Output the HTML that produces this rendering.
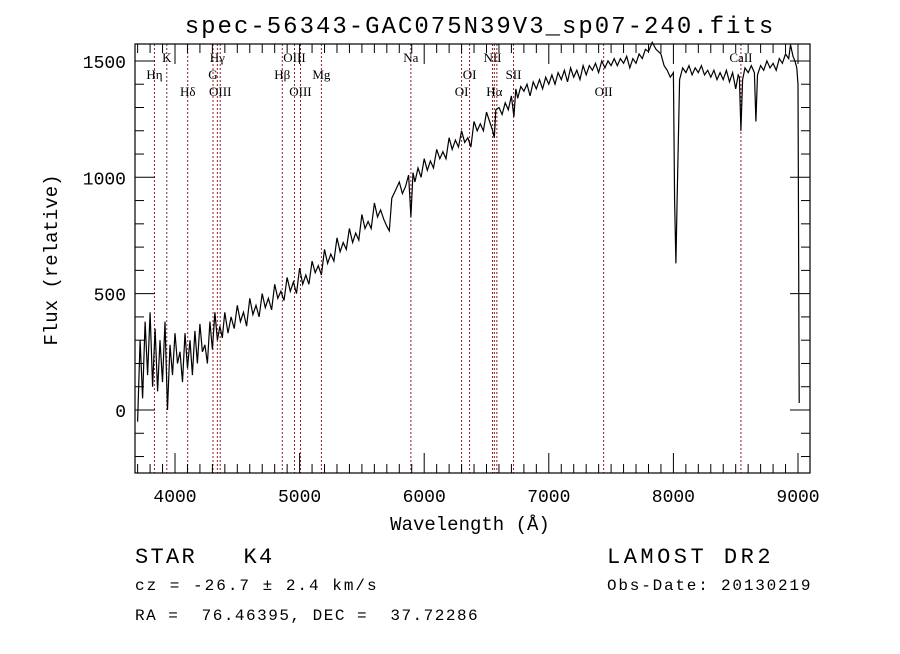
<!DOCTYPE html>
<html><head><meta charset="utf-8"><style>
body{margin:0;background:#fff;}
svg text{font-family:"Liberation Mono",monospace;white-space:pre;}
</style></head><body>
<svg id="c" width="900" height="649" xmlns="http://www.w3.org/2000/svg" xml:space="preserve">
<text x="480" y="33" text-anchor="middle" font-size="24" letter-spacing="2">spec-56343-GAC075N39V3_sp07-240.fits</text>
<g id="lines"></g>
<g id="ticks"></g>
<path id="spec" fill="none" stroke="#000" stroke-width="1.2"/>
<rect x="135" y="44" width="675" height="429" fill="none" stroke="#000" stroke-width="1.2"/>
<text x="470" y="530" text-anchor="middle" font-size="19">Wavelength (Å)</text>
<text transform="translate(57,260) rotate(-90)" text-anchor="middle" font-size="19">Flux (relative)</text>
<text x="135" y="563" font-size="22" letter-spacing="2.3">STAR   K4</text>
<text x="135" y="590" font-size="16" letter-spacing="2">cz = -26.7 ± 2.4 km/s</text>
<text x="135" y="620" font-size="16" letter-spacing="1.5">RA =  76.46395, DEC =  37.72286</text>
<text x="607" y="563" font-size="22" letter-spacing="3.5">LAMOST DR2</text>
<text x="607" y="590" font-size="16" letter-spacing="1.8">Obs-Date: 20130219</text>
</svg>
<script>
const waves=[3700,3720,3740,3760,3780,3800,3820,3840,3860,3880,3900,3920,3940,3960,3980,4000,4020,4040,4060,4080,4100,4120,4140,4160,4180,4200,4220,4240,4260,4280,4300,4320,4340,4360,4380,
4400,4425,4450,4475,4500,4525,4550,4575,4600,4625,4650,4675,4700,4725,4750,4775,4800,4825,4850,4875,4900,4925,4950,4975,
5000,5025,5050,5075,5100,5125,5150,5175,5200,5225,5250,5275,5300,5325,5350,5375,5400,5425,5450,5475,5500,5525,5550,5575,5600,5625,5650,5675,5700,5720,5740,5775,5800,5825,5850,5875,5893,5910,5925,5950,5975,
6000,6025,6050,6075,6100,6125,6150,6175,6200,6225,6250,6275,6300,6325,6350,6375,6400,6425,6450,6475,6500,6525,6550,6563,6575,6600,6625,6650,6675,6700,6720,6735,6750,6775,6800,6825,6850,6875,6900,6925,6950,6975,
7000,7025,7050,7075,7100,7125,7150,7175,7200,7225,7250,7275,7300,7325,7350,7375,7400,7425,7450,7475,7500,7525,7550,7575,7600,7625,7650,7675,7700,7725,7750,7775,7800,7830,7860,7900,7925,7950,7975,
8000,8010,8020,8030,8050,8075,8100,8125,8150,8175,8200,8225,8250,8275,8300,8325,8350,8375,8400,8425,8450,8475,8500,8520,8530,8542,8555,8575,8600,8625,8650,8662,8675,8700,8725,8750,8775,8800,8825,8850,8875,8900,8925,8940,8960,8975,8990,9000,9010];
const flux=[-50,300,50,380,150,420,100,350,80,300,120,380,0,280,150,330,200,250,120,330,180,300,150,340,200,370,250,280,200,380,260,420,300,360,310,
420,330,400,350,450,380,420,360,480,410,450,400,500,440,480,430,540,480,510,470,570,510,550,500,
610,540,580,540,640,590,620,580,690,630,670,640,740,680,720,690,780,720,760,730,840,780,810,780,890,830,860,820,790,770,910,950,980,930,960,1010,830,1020,980,1040,1000,
1080,1030,1070,1040,1120,1080,1110,1080,1170,1120,1160,1130,1200,1150,1170,1130,1240,1200,1230,1200,1280,1240,1200,1170,1290,1300,1270,1320,1290,1350,1260,1380,1340,1390,1370,1400,1350,1410,1380,1420,1380,1430,
1400,1440,1400,1450,1420,1460,1410,1470,1430,1460,1420,1480,1440,1480,1460,1490,1450,1500,1470,1500,1480,1510,1480,1510,1490,1520,1470,1510,1490,1530,1510,1550,1540,1580,1550,1530,1480,1460,1430,
1450,900,630,900,1420,1470,1450,1480,1440,1470,1450,1480,1440,1460,1430,1460,1420,1450,1420,1460,1410,1450,1380,1440,1430,1200,1420,1470,1450,1480,1450,1240,1440,1480,1460,1500,1470,1490,1460,1510,1490,1530,1510,1570,1520,1500,1470,1400,30];
const lineWaves=[3835,3934,4102,4305,4340,4363,4861,4959,5007,5175,5893,6300,6364,6548,6563,6583,6717,7440,8542];
const lineLabels=["Hη","K","Hδ","G","Hγ","OIII","Hβ","OIII","OIII","Mg","Na","OI","OI","NII","Hα","","SII","OII","CaII"];
const lineRows=[1,0,2,1,0,2,1,0,2,1,0,2,1,0,2,0,1,2,0];
const xTicks=[4000,5000,6000,7000,8000,9000];
const yTicks=[0,500,1000,1500];
const NS="http://www.w3.org/2000/svg";
const X=w=>175+(w-4000)*0.1246;
const Y=f=>410-f*0.2327;
const L=135,R=810,T=44,B=473;
function mk(t,a,p){const e=document.createElementNS(NS,t);for(const k in a)e.setAttribute(k,a[k]);p.appendChild(e);return e;}
const lg=document.getElementById('lines');
lineWaves.forEach((w,i)=>{
 const l=mk('line',{x1:X(w),x2:X(w),y1:T,y2:B,stroke:'#8b2020','stroke-width':1,'stroke-dasharray':'2,2'},lg);
 
 
 if(lineLabels[i]){
  const t=mk('text',{x:X(w),y:62+lineRows[i]*17,'text-anchor':'middle','font-size':13,style:'font-family:"Liberation Serif",serif'},lg);
  t.textContent=lineLabels[i];
  
  
 }
});
const tg=document.getElementById('ticks');
for(let w=3700;w<=9090;w+=100){const maj=w%1000===0;const h=maj?20:9;
 mk('line',{x1:X(w),x2:X(w),y1:B,y2:B-h,stroke:'#000'},tg);mk('line',{x1:X(w),x2:X(w),y1:T,y2:T+h,stroke:'#000'},tg);}
for(let f=-200;f<=1550;f+=100){const maj=f%500===0;const h=maj?20:9;
 mk('line',{x1:L,x2:L+h,y1:Y(f),y2:Y(f),stroke:'#000'},tg);mk('line',{x1:R,x2:R-h,y1:Y(f),y2:Y(f),stroke:'#000'},tg);}
xTicks.forEach(v=>{const t=mk('text',{x:X(v),y:502,'text-anchor':'middle','font-size':18},tg);t.textContent=v;
 
 });
yTicks.forEach(v=>{const t=mk('text',{x:126,y:Y(v)+7,'text-anchor':'end','font-size':18},tg);t.textContent=v;
 
 });
let d='';const n=Math.min(waves.length,flux.length);
for(let i=0;i<n;i++){d+=(i?'L':'M')+X(waves[i]).toFixed(1)+','+Y(flux[i]).toFixed(1);}
document.getElementById('spec').setAttribute('d',d);
</script>
</body></html>
